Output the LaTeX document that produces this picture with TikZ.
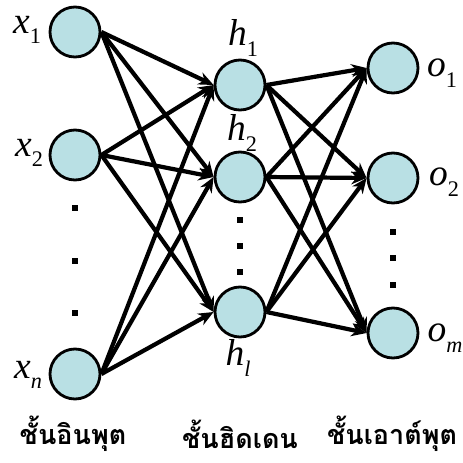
\documentclass[tikz,border=0pt]{standalone}
\usepackage{fontspec}
\setmainfont{Liberation Serif}
\newfontfamily\thaifont[Script=Thai]{Loma}
\usetikzlibrary{arrows.meta}
\definecolor{neuronfill}{RGB}{185,224,228}
\newcommand{\neuronlabel}[2]{\textit{#1}\raisebox{-0.28em}{\fontsize{19}{21}\selectfont #2}}
\tikzset{
  neuron/.style={circle,draw=black,line width=2.4pt,fill=neuronfill,minimum size=1.5cm,inner sep=0pt},
  link/.style={line width=3.6pt,-{Stealth[length=13pt,width=11pt]}},
  varlabel/.style={inner sep=0pt,font=\fontsize{32}{36}\selectfont},
  layerlabel/.style={inner sep=0pt,font=\thaifont\bfseries\fontsize{23}{26}\selectfont}
}

\begin{document}
\begin{tikzpicture}[x=0.03cm,y=-0.03cm]
\path[use as bounding box] (0,0) rectangle (463,462);
% neurons
\node[neuron] (x1) at (75,32) {};
\node[neuron] (x2) at (75,155) {};
\node[neuron] (xn) at (75,374) {};
\node[neuron] (h1) at (240,85) {};
\node[neuron] (h2) at (240,177) {};
\node[neuron] (hl) at (240,312) {};
\node[neuron] (o1) at (393,68) {};
\node[neuron] (o2) at (393,178) {};
\node[neuron] (om) at (393,333) {};
% labels
\node[varlabel] (lx1) at (27,30) {\neuronlabel{x}{1}};
\node[varlabel] (lx2) at (29,153) {\neuronlabel{x}{2}};
\node[varlabel] (lxn) at (28,375) {\neuronlabel{x}{\textit{n}}};
\node[varlabel] (lh1) at (243,38) {\neuronlabel{h}{1}};
\node[varlabel] (lh2) at (242,133) {\neuronlabel{h}{2}};
\node[varlabel] (lhl) at (238,358) {\neuronlabel{h}{\textit{l}}};
\node[varlabel] (lo1) at (442,73) {\neuronlabel{o}{1}};
\node[varlabel] (lo2) at (444,182) {\neuronlabel{o}{2}};
\node[varlabel] (lom) at (445,338) {\neuronlabel{o}{\textit{m}}};
\node[layerlabel] (inlayer) at (73,434) {ชั้นอินพุต};
\node[layerlabel] (hidlayer) at (240,434) {ชั้นฮิดเดน};
\node[layerlabel] (outlayer) at (392,434) {ชั้นเอาต์พุต};
% dots
\foreach \px/\py in {75/208,75/261,75/313,240/220,240/246,240/272,393/232,393/258,393/285}
  \fill (\px-3,\py-3) rectangle (\px+3,\py+3);
% connections
\foreach \a in {x1,x2,xn}
  \foreach \b in {h1,h2,hl}
    \draw[link] (\a.east) -- (\b.west);
\foreach \a in {h1,h2,hl}
  \foreach \b in {o1,o2,om}
    \draw[link] (\a.east) -- (\b.west);
\end{tikzpicture}
\end{document}
